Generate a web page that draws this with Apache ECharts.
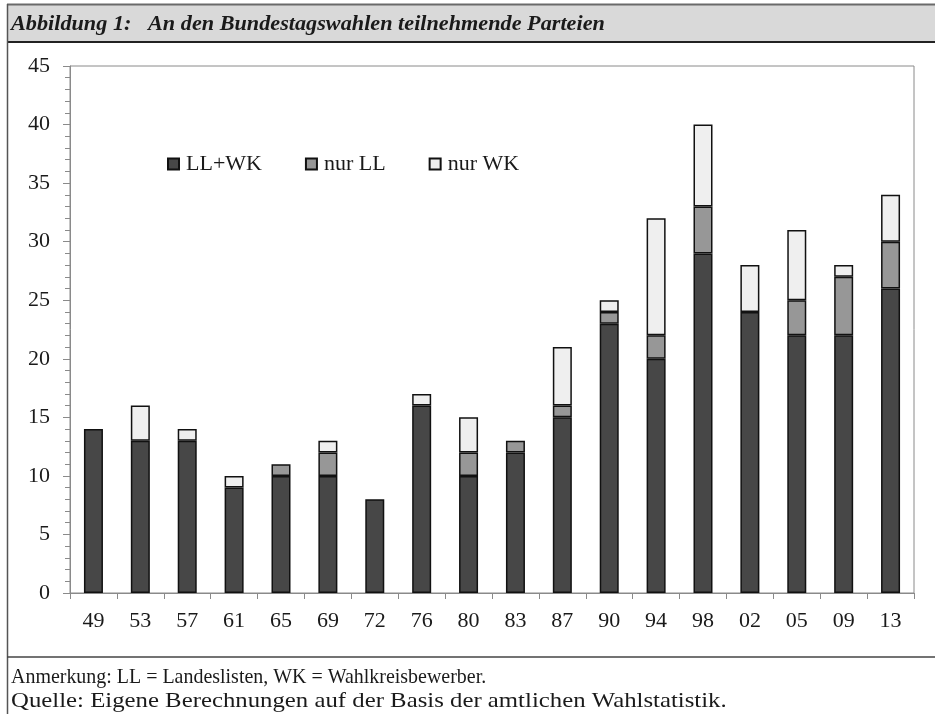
<!DOCTYPE html>
<html><head><meta charset="utf-8">
<script src="https://cdn.jsdelivr.net/npm/echarts@6/dist/echarts.min.js"></script>
<style>html,body{margin:0;padding:0;background:#fff}#c{width:935px;height:714px}</style>
</head><body><div id="c"></div>
<script>
const years = ['49','53','57','61','65','69','72','76','80','83','87','90','94','98','02','05','09','13'];
const llwk  = [14,13,13,9,10,10,8,16,10,12,15,23,20,29,24,22,22,26];
const nurLL = [0,0,0,0,1,2,0,0,2,1,1,1,2,4,0,3,5,4];
const nurWK = [0,3,1,1,0,1,0,1,3,0,5,1,10,7,4,6,1,4];
const seriesNames = ['LL+WK','nur LL','nur WK'];
const colors = ['#474747','#979797','#efefef'];
const titleText = 'Abbildung 1:   An den Bundestagswahlen teilnehmende Parteien';
const note1 = 'Anmerkung: LL = Landeslisten, WK = Wahlkreisbewerber.';
const note2 = 'Quelle: Eigene Berechnungen auf der Basis der amtlichen Wahlstatistik.';

const FONT = '"Liberation Serif", "DejaVu Serif", serif';
const chart = echarts.init(document.getElementById('c'));
const toData = arr => arr.map(v => v === 0 ? null : v);
const data = [llwk, nurLL, nurWK];

chart.setOption({
  animation: false,
  backgroundColor: '#fff',
  textStyle: { fontFamily: FONT },
  grid: { left: 70, right: 21, top: 66, bottom: 121, show: true, borderColor: '#8a8a8a', borderWidth: 1, backgroundColor: 'transparent' },
  legend: {
    left: 162, top: 148, icon: 'rect', itemWidth: 11, itemHeight: 11, itemGap: 43,
    textStyle: { fontFamily: FONT, fontSize: 22, color: '#1a1a1a', padding: [0,0,0,2] },
    data: seriesNames
  },
  xAxis: {
    type: 'category', data: years,
    axisLine: { lineStyle: { color: '#8a8a8a', width: 1 } },
    axisTick: { show: true, length: 6, lineStyle: { color: '#8a8a8a' } },
    axisLabel: { fontFamily: FONT, fontSize: 22, color: '#1a1a1a', margin: 17 }
  },
  yAxis: {
    type: 'value', min: 0, max: 45, interval: 5,
    axisLine: { show: true, lineStyle: { color: '#8a8a8a', width: 1 } },
    axisTick: { show: true, length: 7, lineStyle: { color: '#8a8a8a' } },
    minorTick: { show: true, splitNumber: 5, length: 5, lineStyle: { color: '#8a8a8a' } },
    splitLine: { show: false },
    axisLabel: { fontFamily: FONT, fontSize: 22, color: '#1a1a1a', margin: 20 }
  },
  series: seriesNames.map((n, i) => ({
    name: n, type: 'bar', stack: 'a', barWidth: 19,
    itemStyle: { color: colors[i], borderColor: '#111', borderWidth: 1.5 },
    data: toData(data[i])
  })),
  graphic: [
    { type: 'rect', shape: { x: 7, y: 4, width: 930, height: 38 }, style: { fill: '#d9d9d9' }, silent: true },
    { type: 'line', shape: { x1: 7, y1: 4.5, x2: 935, y2: 4.5 }, style: { stroke: '#6a6a6a', lineWidth: 2 } },
    { type: 'line', shape: { x1: 7, y1: 42, x2: 935, y2: 42 }, style: { stroke: '#222', lineWidth: 2 } },
    { type: 'line', shape: { x1: 7.5, y1: 4, x2: 7.5, y2: 714 }, style: { stroke: '#555', lineWidth: 1.5 } },
    { type: 'line', shape: { x1: 7, y1: 657, x2: 935, y2: 657 }, style: { stroke: '#444', lineWidth: 1.5 } },
    { type: 'text', x: 11, y: 24, scaleX: 1.01, style: { text: titleText, font: 'italic bold 22px ' + FONT, fill: '#1a1a1a', textVerticalAlign: 'middle' } },
    { type: 'text', x: 11, y: 677, scaleX: 0.95, style: { text: note1, font: '21px ' + FONT, fill: '#1a1a1a', textVerticalAlign: 'middle' } },
    { type: 'text', x: 11, y: 701, scaleX: 1.18, style: { text: note2, font: '21px ' + FONT, fill: '#1a1a1a', textVerticalAlign: 'middle' } }
  ]
});
</script></body></html>
